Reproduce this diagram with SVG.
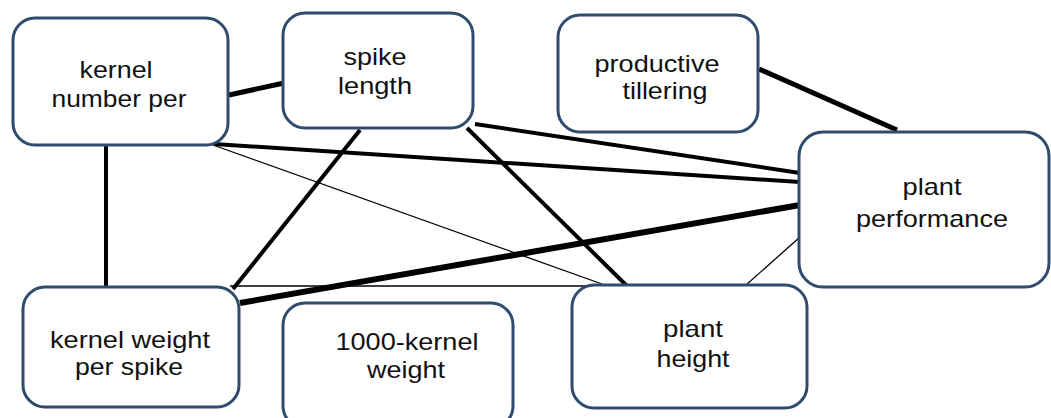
<svg xmlns="http://www.w3.org/2000/svg" width="1051" height="418" viewBox="0 0 1051 418">
<style>
.box{fill:#fff;stroke:#2f4b6e;stroke-width:3}
.t{font-family:"Liberation Sans",Arial,sans-serif;font-size:24px;fill:#111;text-anchor:middle}
.c{stroke:#000;stroke-linecap:butt;fill:none}
.w1{stroke-width:1.3}
.w4{stroke-width:4}
.w5{stroke-width:5}
.w6{stroke-width:6}
</style>
<rect width="1051" height="418" fill="#fff"/>
<g id="connectors">
<line class="c w5" x1="229" y1="95" x2="284" y2="83"/>
<line class="c w4" x1="214" y1="144" x2="800" y2="182"/>
<line class="c w1" x1="213" y1="145" x2="602" y2="284"/>
<line class="c w4" x1="106" y1="145" x2="106" y2="288"/>
<line class="c w4" x1="360" y1="130" x2="233" y2="289"/>
<line class="c w4" x1="475" y1="124" x2="800" y2="173"/>
<line class="c w4" x1="467" y1="128" x2="627" y2="286"/>
<line class="c w6" x1="240" y1="303" x2="800" y2="205"/>
<line class="c w1" x1="230" y1="286" x2="627" y2="286"/>
<line class="c w1" x1="746" y1="285" x2="800" y2="237"/>
<line class="c w5" x1="759" y1="69" x2="897" y2="130"/>
</g>
<g id="n-kernel-number">
<rect class="box" x="13" y="18" width="215" height="127" rx="22"/>
<text class="t" x="116" y="78" textLength="73" lengthAdjust="spacingAndGlyphs">kernel</text>
<text class="t" x="119" y="107" textLength="135" lengthAdjust="spacingAndGlyphs">number per</text>
</g>
<g id="n-spike-length">
<rect class="box" x="283" y="13" width="190" height="115" rx="22"/>
<text class="t" x="375" y="65" textLength="63" lengthAdjust="spacingAndGlyphs">spike</text>
<text class="t" x="375" y="94" textLength="74" lengthAdjust="spacingAndGlyphs">length</text>
</g>
<g id="n-productive-tillering">
<rect class="box" x="558" y="15" width="200" height="117" rx="22"/>
<text class="t" x="657" y="72" textLength="125" lengthAdjust="spacingAndGlyphs">productive</text>
<text class="t" x="665" y="99" textLength="85" lengthAdjust="spacingAndGlyphs">tillering</text>
</g>
<g id="n-plant-performance">
<rect class="box" x="799" y="132" width="250" height="155" rx="24"/>
<text class="t" x="932" y="195" textLength="59" lengthAdjust="spacingAndGlyphs">plant</text>
<text class="t" x="932" y="227" textLength="152" lengthAdjust="spacingAndGlyphs">performance</text>
</g>
<g id="n-kernel-weight">
<rect class="box" x="23" y="287" width="216" height="120" rx="22"/>
<text class="t" x="130" y="348" textLength="160" lengthAdjust="spacingAndGlyphs">kernel weight</text>
<text class="t" x="129" y="375" textLength="108" lengthAdjust="spacingAndGlyphs">per spike</text>
</g>
<g id="n-1000-kernel">
<rect class="box" x="283" y="303" width="230" height="125" rx="22"/>
<text class="t" x="407" y="350" textLength="143" lengthAdjust="spacingAndGlyphs">1000-kernel</text>
<text class="t" x="406" y="378" textLength="78" lengthAdjust="spacingAndGlyphs">weight</text>
</g>
<g id="n-plant-height">
<rect class="box" x="572" y="285" width="235" height="123" rx="22"/>
<text class="t" x="693" y="337" textLength="60" lengthAdjust="spacingAndGlyphs">plant</text>
<text class="t" x="693" y="367" textLength="73" lengthAdjust="spacingAndGlyphs">height</text>
</g>
</svg>
